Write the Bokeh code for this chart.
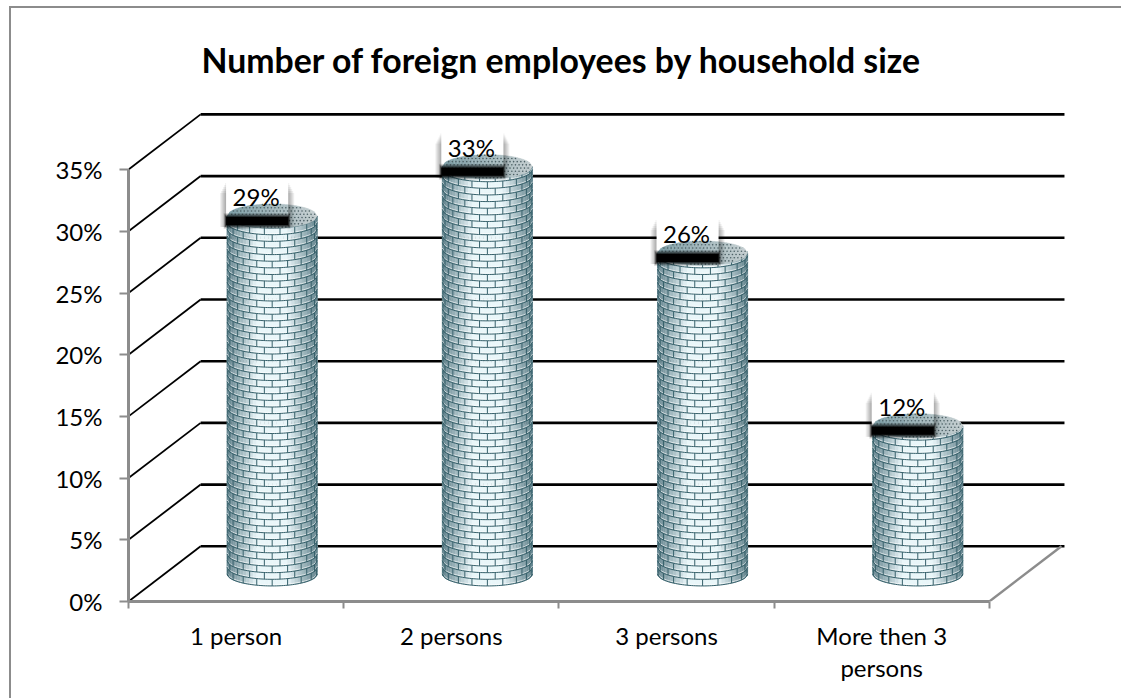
from math import pi, sin

import numpy as np
from bokeh.core.properties import value
from bokeh.embed import file_html
from bokeh.models import FixedTicker, PrintfTickFormatter
from bokeh.plotting import figure
from bokeh.resources import INLINE

title_text = "Number of foreign employees by household size"
categories = ["1 person", "2 persons", "3 persons", "More then 3\npersons"]
shares = [29, 33, 26, 12]
y_ticks = [0, 5, 10, 15, 20, 25, 30, 35]

FONT = "Lato"
AXIS_GREY = "#8c8c8c"

# Screen scale of the data axes: one category and one percentage point, in pixels.
CAT_PX = 214.75
PCT_PX = 12.29
DX = 1 / CAT_PX
DY = 1 / PCT_PX

# The oblique depth of the 3-D box.
DEPTH_X = 72 * DX
DEPTH_Y = 55 * DY

# Only the top and left edges of the chart border fall on the page.
MARGIN_L, MARGIN_T, BORDER = 9, 6, 2
WIDTH, HEIGHT = 1121 - MARGIN_L - BORDER, 698 - MARGIN_T - BORDER
FRAME_L, FRAME_B, FRAME_R, FRAME_T = 117, 591, 1063, 96

p = figure(
    width=WIDTH, height=HEIGHT, output_backend="svg", toolbar_location=None,
    x_range=(0, (FRAME_R - FRAME_L) * DX), y_range=(0, (FRAME_B - FRAME_T) * DY),
    min_border_left=FRAME_L, min_border_right=WIDTH - FRAME_R,
    min_border_top=FRAME_T, min_border_bottom=HEIGHT - FRAME_B,
)
p.styles = {
    "margin-left": f"{MARGIN_L}px",
    "margin-top": f"{MARGIN_T}px",
    "border-left": f"{BORDER}px solid {AXIS_GREY}",
    "border-top": f"{BORDER}px solid {AXIS_GREY}",
    "box-sizing": "content-box",
}
p.outline_line_color = None
p.grid.visible = False

p.title.text = title_text
p.title.text_font = FONT
p.title.text_font_size = "33.8px"
p.title.text_font_style = "bold"
p.title.text_color = "#000000"
p.title.align = "left"
p.title.offset = 73
p.title.standoff = 50

yax = p.yaxis[0]
yax.ticker = FixedTicker(ticks=y_ticks)
yax.formatter = PrintfTickFormatter(format="%d%%")
yax.bounds = (0, 35)
yax.axis_line_color = AXIS_GREY
yax.axis_line_width = 3
yax.major_tick_line_color = AXIS_GREY
yax.major_tick_line_width = 2
yax.major_tick_in = 0
yax.major_tick_out = 9
yax.minor_tick_out = 0
yax.major_label_standoff = 17
yax.major_label_text_font = FONT
yax.major_label_text_font_size = "24px"
yax.major_label_text_color = "#000000"

xax = p.xaxis[0]
mids = [i + 0.5 for i in range(len(categories))]
xax.ticker = FixedTicker(ticks=mids, minor_ticks=list(range(len(categories) + 1)))
xax.major_label_overrides = dict(zip(mids, categories))
xax.bounds = (0, len(categories))
xax.axis_line_color = AXIS_GREY
xax.axis_line_width = 3
xax.major_tick_in = 0
xax.major_tick_out = 0
xax.minor_tick_in = 0
xax.minor_tick_out = 7
xax.minor_tick_line_color = AXIS_GREY
xax.minor_tick_line_width = 2
xax.major_label_standoff = 12
xax.major_label_text_font = FONT
xax.major_label_text_font_size = "24px"
xax.major_label_text_color = "#000000"
xax.major_label_text_line_height = 1.12

# Back wall lines and the diagonals running along the side wall.
n_cat = len(categories)
for t in y_ticks:
    p.line([0, DEPTH_X], [t, t + DEPTH_Y], line_color="#000000", line_width=1.8)
    p.line([DEPTH_X, n_cat + DEPTH_X + 3 * DX], [t + DEPTH_Y, t + DEPTH_Y],
           line_color="#000000", line_width=2.6)
p.line([n_cat, n_cat + DEPTH_X], [0, DEPTH_Y], line_color=AXIS_GREY, line_width=2.4)


def mix(c1, c2, f):
    a = [int(c1[i:i + 2], 16) for i in (1, 3, 5)]
    b = [int(c2[i:i + 2], 16) for i in (1, 3, 5)]
    return "#" + "".join(f"{round(u + (v - u) * f):02x}" for u, v in zip(a, b))


TAG_L, TAG_R = -46, 16    # tag edges relative to the cylinder axis
TAG_T, TAG_B = 35, -2     # tag edges relative to the cap centre


def tag_base(cx, v):
    """White tag behind the value; the cylinder is painted over it."""
    p.quad(left=cx + TAG_L * DX, right=cx + TAG_R * DX, top=v + TAG_T * DY, bottom=v + TAG_B * DY,
           fill_color="#ffffff", line_color=None)


def tag_shadow(cx, v):
    """Soft side shadows of the tag and the blurred black band at its foot."""
    left, right = cx + TAG_L * DX, cx + TAG_R * DX
    for s in (1, 2, 3, 4, 5, 6):
        top = v + (TAG_T - 12 + (6 - s) * 2) * DY
        bottom = v + (TAG_B - 9) * DY
        for a, b in ((left - s * DX, left), (right, right + s * DX)):
            p.quad(left=a, right=b, top=top, bottom=bottom,
                   fill_color="#000000", fill_alpha=0.06, line_color=None)
    for s, alpha in ((4, 0.12), (3, 0.2), (2, 0.3), (1, 0.45), (0, 1.0)):
        p.quad(left=left - s * 0.6 * DX, right=right + s * 0.6 * DX,
               top=v - (1 - s) * DY, bottom=v - (9 + s) * DY,
               fill_color="#000000", fill_alpha=alpha, line_color=None)


def cylinder(cx, v):
    r = 45 * DX
    h = 12 * DY
    y0 = DEPTH_Y * 0.5

    # Side wall shaded from the rim towards the middle, in narrow vertical strips.
    edges = np.sin(np.linspace(-pi / 2, pi / 2, 37))
    xs, ys, cols = [], [], []
    for a, b in zip(edges[:-1], edges[1:]):
        m = (a + b) / 2
        f = min(1.0, (1 - abs(m)) * 1.5)
        cols.append(mix("#5f808a", "#e9f6f9", f))
        xs.append([cx + r * a, cx + r * b, cx + r * b, cx + r * a])
        ys.append([y0 - h * (1 - a * a) ** 0.5, y0 - h * (1 - b * b) ** 0.5, v, v])
    p.patches(xs, ys, fill_color=cols, line_color=cols, line_width=0.5)

    # Mortar courses follow the curve of the wall; joints alternate between courses.
    course = 6.6 * DY
    ts = np.linspace(-1, 1, 41)
    line_x, line_y, glow_x, glow_y, jx, jy = [], [], [], [], [], []
    row = 0
    y = y0
    while y < v + h:
        curve = y - h * np.sqrt(1 - ts * ts)
        ok = curve < v + h * np.sqrt(1 - ts * ts)
        line_x.append(list(cx + r * ts[ok]))
        line_y.append(list(curve[ok]))
        glow_x.append(list(cx + r * ts[ok]))
        glow_y.append(list(curve[ok] + 1.2 * DY))
        shift = 0.5 if row % 2 else 0.0
        for k in np.arange(-5, 6):
            theta = (k + shift) * pi / 9
            if abs(theta) >= pi / 2:
                continue
            t = sin(theta)
            yb = y - h * (1 - t * t) ** 0.5
            yt = yb + course
            if yt <= v + h * (1 - t * t) ** 0.5:
                jx.append([cx + r * t, cx + r * t])
                jy.append([yb, yt])
        y += course
        row += 1
    p.multi_line(glow_x, glow_y, line_color="#ffffff", line_alpha=0.7, line_width=0.9)
    p.multi_line(line_x, line_y, line_color="#36606a", line_width=1.0)
    p.multi_line(jx, jy, line_color="#36606a", line_width=1.0)

    # Stippled cap, teal on the left and greyer on the right.
    cap_edges = np.linspace(-1, 1, 31)
    cap_x, cap_y, cap_c = [], [], []
    for a, b in zip(cap_edges[:-1], cap_edges[1:]):
        m = (a + b + 2) / 4
        cap_c.append(mix("#7a9ca4", "#c7d0d2", m))
        cap_x.append([cx + r * a, cx + r * b, cx + r * b, cx + r * a])
        cap_y.append([v - h * (1 - a * a) ** 0.5, v - h * (1 - b * b) ** 0.5,
                      v + h * (1 - b * b) ** 0.5, v + h * (1 - a * a) ** 0.5])
    p.patches(cap_x, cap_y, fill_color=cap_c, line_color=cap_c, line_width=0.4)
    dot_x, dot_y = [], []
    for j, oy in enumerate(np.arange(-11, 12, 3.2)):
        for ox in np.arange(-44, 45, 3.6):
            ox2 = ox + (1.8 if j % 2 else 0)
            if (ox2 / 45) ** 2 + (oy / 12) ** 2 < 0.95:
                dot_x.append(cx + ox2 * DX)
                dot_y.append(v + oy * DY)
    p.scatter(dot_x, dot_y, size=1.6, marker="circle", fill_color="#4c6065", line_color=None)


centres = [i + 0.5 + DEPTH_X * 0.5 for i in range(n_cat)]
for c, v in zip(centres, shares):
    tag_base(c, v + DEPTH_Y * 0.5)
    cylinder(c, v + DEPTH_Y * 0.5)
    tag_shadow(c, v + DEPTH_Y * 0.5)

p.text(
    x=[c - 16 * DX for c in centres],
    y=[v + DEPTH_Y * 0.5 + 19 * DY for v in shares],
    text=[f"{v}%" for v in shares],
    text_font=value(FONT), text_font_size="24px", text_color="#000000",
    text_align="center", text_baseline="middle",
)

open("out.html", "w").write(file_html(p, INLINE))
